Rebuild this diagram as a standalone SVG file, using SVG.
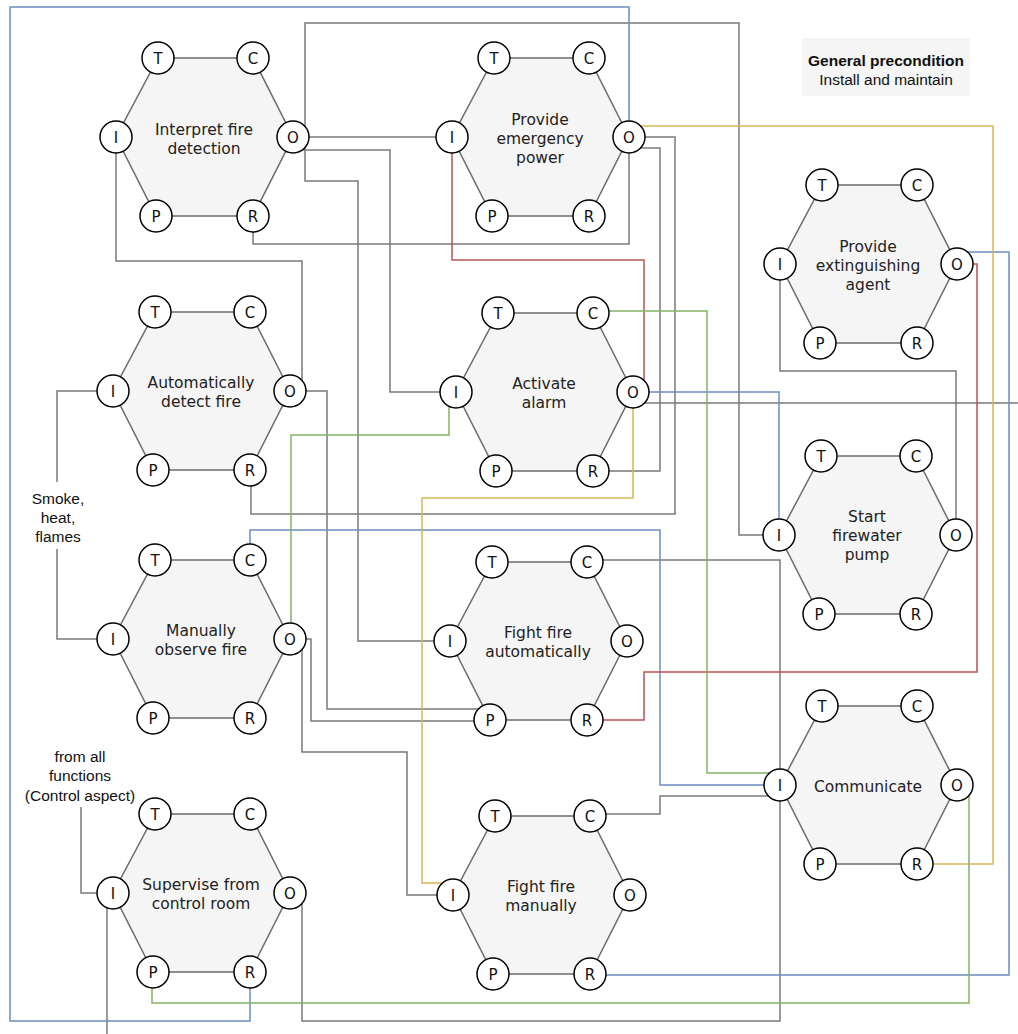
<svg xmlns="http://www.w3.org/2000/svg" xmlns:xlink="http://www.w3.org/1999/xlink" width="1018" height="1034" viewBox="0 0 1018 1034">
<style>
.hex{fill:#f5f5f5;stroke:#6b6b6b;stroke-width:1.5}
.port{fill:#fff;stroke:#000;stroke-width:1.5}
.pt{font-family:"DejaVu Sans",sans-serif;font-size:15px;fill:#111;text-anchor:middle}
.lbl{font-family:"DejaVu Sans",sans-serif;font-size:15.5px;fill:#222;text-anchor:middle}
.note{font-family:"Liberation Sans",Arial,sans-serif;font-size:15.5px;fill:#111;text-anchor:middle}
.c{fill:none;stroke-width:1.5;stroke-linejoin:miter}
.g{stroke:#7a7a7a}
.b{stroke:#6c8ebf}
.y{stroke:#d6b656}
.r{stroke:#b85450}
.gr{stroke:#82b366}
</style>
<defs>
<g id="hex">
<polygon class="hex" points="-46,-79 49,-79 89,0 49,79 -48,79 -88,0"/>
<circle class="port" cx="-46" cy="-79" r="16"/><text class="pt" x="-46" y="-73.5">T</text>
<circle class="port" cx="49" cy="-79" r="16"/><text class="pt" x="49" y="-73.5">C</text>
<circle class="port" cx="-88" cy="0" r="16"/><text class="pt" x="-88" y="5.5">I</text>
<circle class="port" cx="89" cy="0" r="16"/><text class="pt" x="89" y="5.5">O</text>
<circle class="port" cx="-48" cy="79" r="16"/><text class="pt" x="-48" y="84.5">P</text>
<circle class="port" cx="49" cy="79" r="16"/><text class="pt" x="49" y="84.5">R</text>
</g>
</defs>
<rect width="1018" height="1034" fill="#fff"/>
<g id="connectors">
<!-- gray -->
<path class="c g" d="M293 137 H452"/>
<path class="c g" d="M293 150 H390 V392 H456"/>
<path class="c g" d="M293 137 H305 V23 H739 V535 H779"/>
<path class="c g" d="M293 137 H305 V181 H358 V641 H450"/>
<path class="c g" d="M253 216 V244 H629 V137"/>
<path class="c g" d="M116 137 V261 H302 V391"/>
<path class="c g" d="M629 137 H675 V514 H251 V470"/>
<path class="c g" d="M629 148 H660 V471 H593"/>
<path class="c g" d="M633 403 H1018"/>
<path class="c g" d="M587 560 H780 V1021 H302 V893"/>
<path class="c g" d="M590 814 H660 V796 H780"/>
<path class="c g" d="M780 264 V371 H956 V535"/>
<path class="c g" d="M290 639 H302 V752 H407 V895 H453"/>
<path class="c g" d="M290 391 H327 V709 H490"/>
<path class="c g" d="M290 639 H311 V721 H490"/>
<path class="c g" d="M113 391 H57 V482"/>
<path class="c g" d="M57 549 V639 H113"/>
<path class="c g" d="M81 807 V893 H113"/>
<path class="c g" d="M107 893 V1034"/>
<!-- blue -->
<path class="c b" d="M250 972 V1021 H10 V7 H629 V137"/>
<path class="c b" d="M633 392 H779 V535"/>
<path class="c b" d="M250 560 V530 H660 V785 H780"/>
<path class="c b" d="M590 975 H1009 V252 H957"/>
<!-- yellow -->
<path class="c y" d="M629 126 H993 V864 H917"/>
<path class="c y" d="M633 392 V498 H422 V883 H453"/>
<!-- red -->
<path class="c r" d="M644 392 V260 H452 V137"/>
<path class="c r" d="M957 264 H977 V672 H644 V720 H587"/>
<!-- green -->
<path class="c gr" d="M593 311 H707 V773 H780"/>
<path class="c gr" d="M449 392 V435 H291 V639"/>
<path class="c gr" d="M969 785 V1003 H152 V972"/>
</g>
<g id="n-interpret" transform="translate(204,137)"><use xlink:href="#hex" href="#hex"/><text class="lbl" x="0" y="-2.5">Interpret fire</text><text class="lbl" x="0" y="16.5">detection</text></g>
<g id="n-power" transform="translate(540,137)"><use xlink:href="#hex" href="#hex"/><text class="lbl" x="0" y="-12.5">Provide</text><text class="lbl" x="0" y="6.5">emergency</text><text class="lbl" x="0" y="25.5">power</text></g>
<g id="n-agent" transform="translate(868,264)"><use xlink:href="#hex" href="#hex"/><text class="lbl" x="0" y="-12.5">Provide</text><text class="lbl" x="0" y="6.5">extinguishing</text><text class="lbl" x="0" y="25.5">agent</text></g>
<g id="n-autodetect" transform="translate(201,391)"><use xlink:href="#hex" href="#hex"/><text class="lbl" x="0" y="-3">Automatically</text><text class="lbl" x="0" y="16">detect fire</text></g>
<g id="n-alarm" transform="translate(544,392)"><use xlink:href="#hex" href="#hex"/><text class="lbl" x="0" y="-3">Activate</text><text class="lbl" x="0" y="16">alarm</text></g>
<g id="n-pump" transform="translate(867,535)"><use xlink:href="#hex" href="#hex"/><text class="lbl" x="0" y="-13.5">Start</text><text class="lbl" x="0" y="5.5">firewater</text><text class="lbl" x="0" y="24.5">pump</text></g>
<g id="n-manual" transform="translate(201,639)"><use xlink:href="#hex" href="#hex"/><text class="lbl" x="0" y="-3">Manually</text><text class="lbl" x="0" y="16">observe fire</text></g>
<g id="n-fightauto" transform="translate(538,641)"><use xlink:href="#hex" href="#hex"/><text class="lbl" x="0" y="-3">Fight fire</text><text class="lbl" x="0" y="16">automatically</text></g>
<g id="n-communicate" transform="translate(868,785)"><use xlink:href="#hex" href="#hex"/><text class="lbl" x="0" y="6.5">Communicate</text></g>
<g id="n-fightmanual" transform="translate(541,895)"><use xlink:href="#hex" href="#hex"/><text class="lbl" x="0" y="-3">Fight fire</text><text class="lbl" x="0" y="16">manually</text></g>
<g id="n-supervise" transform="translate(201,893)"><use xlink:href="#hex" href="#hex"/><text class="lbl" x="0" y="-3">Supervise from</text><text class="lbl" x="0" y="16">control room</text></g>
<g id="precondition">
<rect x="802" y="38" width="168" height="58" fill="#f5f5f5"/>
<text class="note" x="886" y="65.5" font-weight="bold">General precondition</text>
<text class="note" x="886" y="84.5">Install and maintain</text>
</g>
<g id="label-smoke">
<text class="note" x="58" y="504">Smoke,</text>
<text class="note" x="58" y="523">heat,</text>
<text class="note" x="58" y="542">flames</text>
</g>
<g id="label-control">
<text class="note" x="80" y="762">from all</text>
<text class="note" x="80" y="781">functions</text>
<text class="note" x="80" y="801">(Control aspect)</text>
</g>
</svg>
